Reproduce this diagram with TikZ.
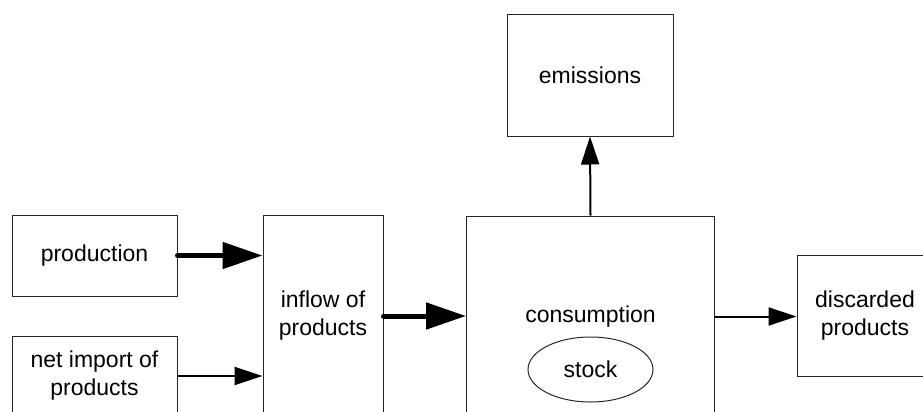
\documentclass[tikz,border=0pt]{standalone}
\usepackage{fontspec}
\setmainfont{Liberation Sans}
\usetikzlibrary{arrows.meta,shapes.geometric}
\begin{document}
\begin{tikzpicture}[x=1pt,y=-1pt,
  every node/.style={font=\fontsize{23}{28}\selectfont, align=center, inner sep=0pt},
  box/.style={draw=black!85, line width=1pt, rectangle},
  oval/.style={draw=black!85, line width=1pt, ellipse},
  bigflow/.style={line width=5pt, line cap=round, -{Triangle[length=40pt,width=26pt]}},
  smallflow/.style={line width=2pt, -{Triangle[length=28pt,width=18pt]}}
]
\useasboundingbox (0,0) rectangle (923,412);
\clip (0,0) rectangle (923,412);
\node[box, minimum width=165pt, minimum height=81pt] (prod) at (94.5,255.5) {production};
\node[box, minimum width=165pt, minimum height=80pt] (imp) at (94.5,376) {net import of\\products};
\node[box, minimum width=120pt, minimum height=202pt] (inflow) at (323,316) {inflow of\\products};
\node[box, minimum width=248pt, minimum height=201pt] (cons) at (590.5,316.5) {consumption};
\node[oval, minimum width=125pt, minimum height=65pt] (stock) at (590.5,369.5) {stock};
\node[box, minimum width=166pt, minimum height=121pt] (emis) at (590,75.5) {emissions};
\node[box, minimum width=136pt, minimum height=121pt] (disc) at (865,316) {discarded\\products};
\draw[bigflow] (prod.east) -- (prod.east -| inflow.west);
\draw[smallflow] (imp.east) -- (imp.east -| inflow.west);
\draw[bigflow] (inflow.east) -- (inflow.east -| cons.west);
\draw[smallflow] (cons.east) -- (cons.east -| disc.west);
\draw[smallflow] (cons.north) -- (emis.south);
\end{tikzpicture}
\end{document}
